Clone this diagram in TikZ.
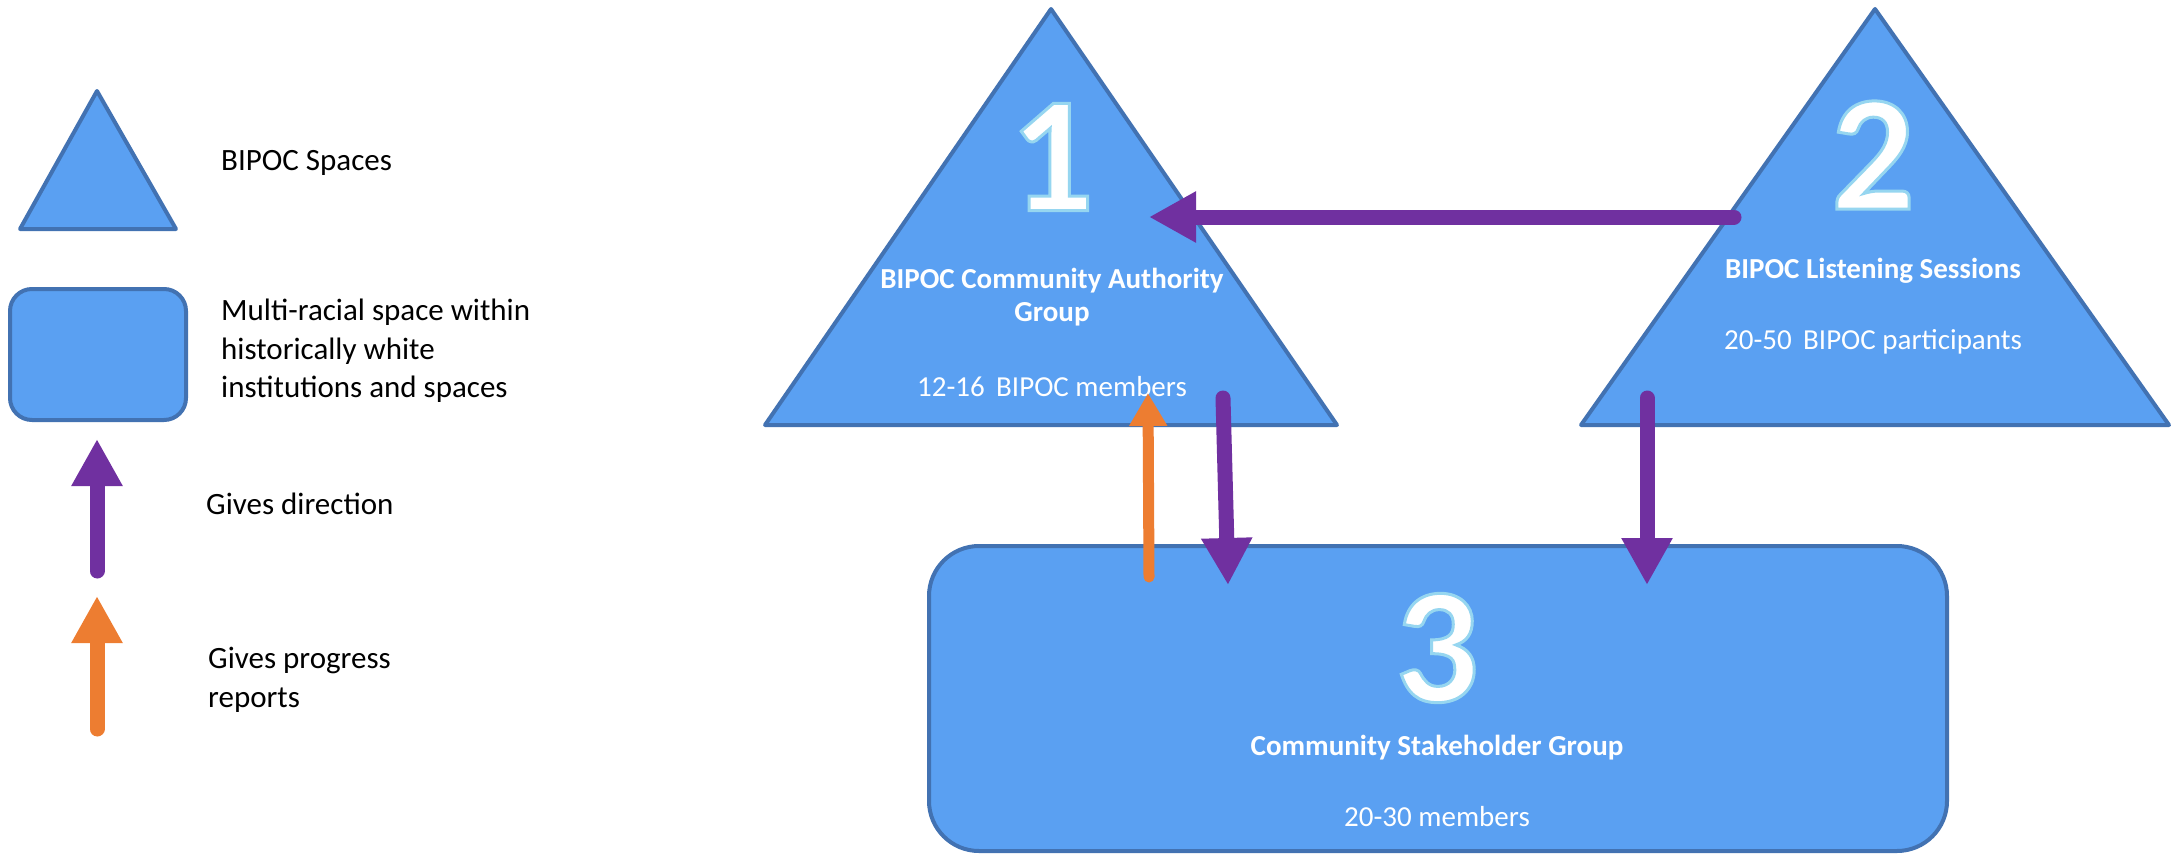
\documentclass[tikz,border=0pt]{standalone}
\usepackage{fontspec}
\setmainfont{Carlito}
\usetikzlibrary{arrows.meta,positioning}
\definecolor{spaceblue}{RGB}{90,160,242}
\definecolor{edgeblue}{RGB}{66,114,178}
\definecolor{dirpurple}{RGB}{112,48,160}
\definecolor{reporange}{RGB}{237,125,49}
% outlined digit (light blue rim round a white figure)
\newcommand{\rimmed}[1]{\special{pdf:literal direct 2 Tr 3 w 0.59 0.84 0.94 RG}#1\special{pdf:literal direct 0 Tr}}

\begin{document}
\begin{tikzpicture}[x=1pt,y=-1pt,on grid,
  space/.style={draw=edgeblue,fill=spaceblue,line width=4pt,line join=round},
  big/.style={font=\fontsize{165}{165}\selectfont\bfseries,text=white,inner sep=0pt},
  title/.style={font=\fontsize{29}{33}\selectfont\bfseries,text=white,align=center,inner sep=0pt},
  count/.style={font=\fontsize{29}{33}\selectfont,text=white,inner sep=0pt},
  legend/.style={font=\fontsize{31}{38.5}\selectfont,align=left,anchor=west,inner sep=0pt},
  gives/.style={line width=15pt,line cap=round,draw=dirpurple,-{Triangle[length=47pt,width=48pt]}},
  reports/.style={gives,draw=reporange}]
   \useasboundingbox (0,0) rectangle (2177,854);

   % legend
   \draw[space] (97,91) -- (176,229) -- (20,229) -- cycle;
   \node[legend] (l_tri) at (221,163) {BIPOC Spaces};
   \draw[space,rounded corners=22pt] (10,289) rectangle (186,420);
   \node[legend] (l_rect) at (221,351) {Multi-racial space within\\historically white\\institutions and spaces};
   \coordinate (ld_s) at (97,571);
   \coordinate (ld_e) at (97,439);
   \node[legend] (l_dir) at (206,504) {Gives direction};
   \coordinate (lr_s) at (97,729);
   \coordinate (lr_e) at (97,596);
   \node[legend] (l_rep) at (208,680) {Gives progress\\reports};

   % the three groups
   \draw[space] (1051,9) -- (1337,425) -- (765,425) -- cycle;
   \draw[space] (1875,9) -- (2169,425) -- (1581,425) -- cycle;
   \draw[space,rounded corners=50pt] (929,546) rectangle (1947,851);

   \node[big] (n_1) at (1052,157) {\rimmed{1}};
   \node[title] (t_1) [below=140pt of n_1] {BIPOC Community Authority\\Group};
   \node[count] (c_1) [below=90pt of t_1] {12-16\, BIPOC members};

   \node[big] (n_2) at (1873,155) {\rimmed{2}};
   \node[title] (t_2) [below=116pt of n_2] {BIPOC Listening Sessions};
   \node[count] (c_2) [below=71pt of t_2] {20-50\, BIPOC participants};

   \node[big] (n_3) at (1437,648) {\rimmed{3}};
   \node[title] (t_3) [below=100pt of n_3] {Community Stakeholder Group};
   \node[count] (c_3) [below=69pt of t_3] {20-30 members};

   % arrow ends
   \coordinate (from_2) at (1734,217);
   \coordinate (to_1) at (1149,217);
   \coordinate (up_s) at (1149,577);
   \coordinate (up_e) at (1148,393);
   \coordinate (down1_s) at (1223,398);
   \coordinate (down1_e) at (1228,585);
   \coordinate (down2_s) at (1647,398);
   \coordinate (down2_e) at (1647,585);

   \draw[gives] (ld_s) -- (ld_e);
   \draw[reports] (lr_s) -- (lr_e);
   \draw[gives] (from_2) -- (to_1);
   \draw[reports,line width=11pt,-{Triangle[length=33pt,width=36pt]}] (up_s) -- (up_e);
   \draw[gives] (down1_s) -- (down1_e);
   \draw[gives] (down2_s) -- (down2_e);
\end{tikzpicture}
\end{document}
